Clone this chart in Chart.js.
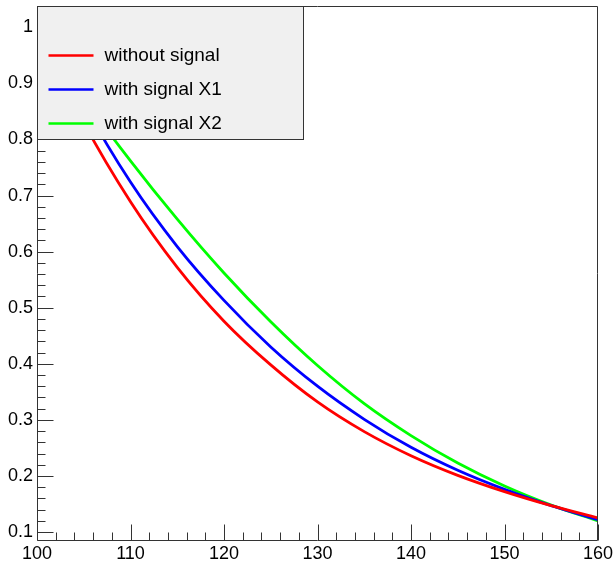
<!DOCTYPE html>
<html>
<head>
<meta charset="utf-8">
<script src="https://cdn.jsdelivr.net/npm/chart.js@4"></script>
<style>
  body { margin: 0; background: #fff; }
  canvas { display: block; }
</style>
</head>
<body>
<canvas id="myChart" width="613" height="567"></canvas>
<script>
// values
var xValues = [100, 105, 110, 115, 120, 125, 130, 135, 140, 145, 150, 155, 160];
var withoutSignal = [1.00, 0.83, 0.689, 0.572, 0.476, 0.398, 0.332, 0.279, 0.236, 0.201, 0.172, 0.147, 0.125];
var signalX1 = [1.03, 0.864, 0.724, 0.609, 0.513, 0.430, 0.360, 0.301, 0.251, 0.210, 0.176, 0.147, 0.122];
var signalX2 = [1.01, 0.875, 0.762, 0.658, 0.562, 0.475, 0.397, 0.329, 0.272, 0.223, 0.182, 0.148, 0.120];
var seriesNames = ["without signal", "with signal X1", "with signal X2"];
var seriesColors = ["#ff0000", "#0000ff", "#00ff00"];

function toPoints(arr) {
  return xValues.map(function (x, i) { return { x: x, y: arr[i] }; });
}

var fontFamily = "'Liberation Sans', Arial, Helvetica, sans-serif";

// frame + inward ticks like ROOT
var frameTicks = {
  id: "frameTicks",
  afterDatasetsDraw: function (chart) {
    var ctx = chart.ctx;
    var a = chart.chartArea;
    var xs = chart.scales.x, ys = chart.scales.y;
    ctx.save();
    ctx.strokeStyle = "#333";
    ctx.lineWidth = 1;
    ctx.beginPath();
    var L = Math.round(a.left) + 0.5, R = Math.round(a.right) - 0.5;
    var T = Math.round(a.top) + 0.5, B = Math.round(a.bottom) - 0.5;
    ctx.rect(L, T, R - L, B - T);
    // x ticks every 2
    for (var v = 100; v <= 160; v += 2) {
      var px = Math.round(xs.getPixelForValue(v)) + 0.5;
      var len = (v % 10 === 0) ? 16 : 8;
      ctx.moveTo(px, B);
      ctx.lineTo(px, B - len);
    }
    // y ticks every 0.02
    for (var k = 5; k <= 51; k++) {
      var yv = k * 0.02;
      if (yv < ys.min || yv > ys.max) continue;
      var py = Math.round(ys.getPixelForValue(yv)) + 0.5;
      var ylen = (k % 5 === 0) ? 16 : 8;
      ctx.moveTo(L, py);
      ctx.lineTo(L + ylen, py);
    }
    ctx.stroke();
    ctx.restore();
  }
};

// legend box drawn over the plot, top-left
var boxLegend = {
  id: "boxLegend",
  afterDraw: function (chart) {
    var ctx = chart.ctx;
    var a = chart.chartArea;
    var left = Math.round(a.left) + 0.5, top = Math.round(a.top) + 0.5;
    var w = 266, h = 133;
    ctx.save();
    ctx.fillStyle = "#f0f0f0";
    ctx.fillRect(left, top, w, h);
    ctx.strokeStyle = "#333";
    ctx.lineWidth = 1;
    ctx.strokeRect(left, top, w, h);
    ctx.font = "19px " + fontFamily;
    ctx.textBaseline = "middle";
    ctx.textAlign = "left";
    chart.data.datasets.forEach(function (ds, i) {
      var y = top + 49 + i * 34;
      ctx.strokeStyle = ds.borderColor;
      ctx.lineWidth = 2.5;
      ctx.beginPath();
      ctx.moveTo(left + 11, y);
      ctx.lineTo(left + 56, y);
      ctx.stroke();
      ctx.fillStyle = "#000";
      ctx.fillText(ds.label, left + 67, y);
    });
    ctx.restore();
  }
};

new Chart("myChart", {
  type: "line",
  data: {
    datasets: [
      { label: seriesNames[0], data: toPoints(withoutSignal), borderColor: seriesColors[0] },
      { label: seriesNames[1], data: toPoints(signalX1), borderColor: seriesColors[1] },
      { label: seriesNames[2], data: toPoints(signalX2), borderColor: seriesColors[2] }
    ]
  },
  options: {
    responsive: false,
    animation: false,
    layout: { padding: { top: 6, right: 15, left: 0, bottom: 0 } },
    elements: {
      point: { radius: 0 },
      line: { borderWidth: 2.8, cubicInterpolationMode: "monotone", fill: false }
    },
    datasets: { line: { clip: 0 } },
    plugins: {
      legend: { display: false },
      tooltip: { enabled: false }
    },
    scales: {
      x: {
        type: "linear",
        min: 100,
        max: 160,
        grid: { display: false, drawTicks: false },
        border: { display: false },
        ticks: {
          stepSize: 10,
          padding: 2,
          color: "#000",
          maxRotation: 0,
          font: { family: fontFamily, size: 18 }
        },
        afterFit: function (scale) {
          scale.height = 26;
          scale.paddingLeft = 0;
          scale.paddingRight = 0;
        }
      },
      y: {
        min: 0.084,
        max: 1.038,
        grid: { display: false, drawTicks: false },
        border: { display: false },
        ticks: {
          stepSize: 0.1,
          includeBounds: false,
          padding: 4,
          color: "#000",
          font: { family: fontFamily, size: 18 },
          callback: function (v) { return String(+v.toFixed(1)); }
        },
        afterFit: function (scale) {
          scale.width = 37;
          scale.paddingTop = 0;
          scale.paddingBottom = 0;
        }
      }
    }
  },
  plugins: [frameTicks, boxLegend]
});
</script>
</body>
</html>
